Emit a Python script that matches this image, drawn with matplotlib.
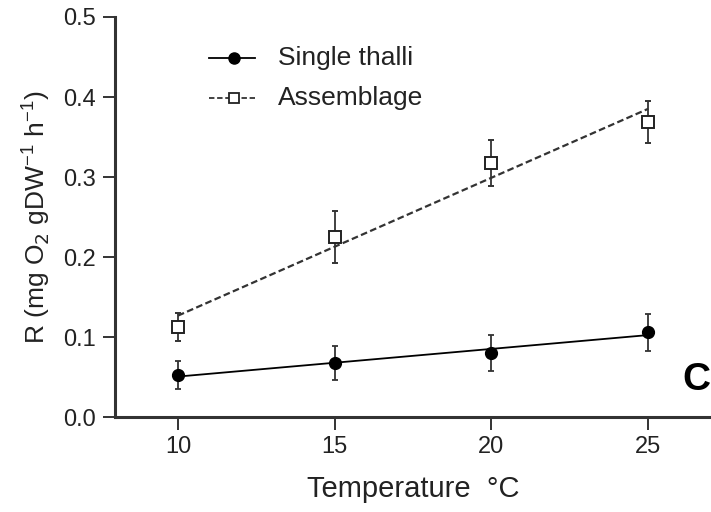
import numpy as np
import matplotlib
matplotlib.use("Agg")
import matplotlib.pyplot as plt

plt.rcParams['font.family'] = ['Liberation Sans', 'DejaVu Sans']

temps = [10, 15, 20, 25]
single_mean = [0.0525, 0.0675, 0.080, 0.106]
single_err = [0.018, 0.021, 0.022, 0.023]
assem_mean = [0.1125, 0.225, 0.3175, 0.369]
assem_err = [0.0175, 0.032, 0.029, 0.026]

dark = '#222222'

fig = plt.figure(figsize=(7.11, 5.12), dpi=100)
ax = fig.add_axes([0.162, 0.1855, 0.838, 0.7813])

x = np.array(temps, dtype=float)
xfit = np.array([10, 25], dtype=float)

# regression lines through the means
p1 = np.polyfit(x, single_mean, 1)
p2 = np.polyfit(x, assem_mean, 1)
ax.plot(xfit, np.polyval(p1, xfit), color='black', lw=1.3, zorder=2)
ax.plot(xfit, np.polyval(p2, xfit), color='#333333', lw=1.6, ls=(0, (3, 1.5)), zorder=2)

ax.errorbar(x, single_mean, yerr=single_err, fmt='o', color='black', ms=8.5,
            elinewidth=1.3, capsize=2.5, capthick=1.3, ecolor='#333333', zorder=3)
ax.errorbar(x, assem_mean, yerr=assem_err, fmt='s', mfc='white', mec='#222222', mew=1.4,
            ms=8.5, elinewidth=1.3, capsize=2.5, capthick=1.3, ecolor='#333333', zorder=3)

# legend drawn manually to mimic the original layout
ax.plot([11.0, 12.45], [0.449, 0.449], color='black', lw=1.3)
ax.plot([11.8], [0.449], 'o', color='black', ms=8)
ax.plot([11.0, 12.45], [0.399, 0.399], color='#333333', lw=1.3, ls=(0, (3, 1.5)))
ax.plot([11.8], [0.399], 's', mfc='white', mec='#222222', mew=1.3, ms=7.5)
ax.text(13.2, 0.449, 'Single thalli', fontsize=19, color=dark, va='center')
ax.text(13.2, 0.399, 'Assemblage', fontsize=19, color=dark, va='center')

ax.text(26.08, 0.046, 'C', fontsize=28, fontweight='bold', color='black', va='center', ha='left')

ax.set_xlim(8, 27.0)
ax.set_ylim(0, 0.5)
ax.set_xticks(temps)
ax.set_yticks([0.0, 0.1, 0.2, 0.3, 0.4, 0.5])
ax.set_yticklabels(['0.0', '0.1', '0.2', '0.3', '0.4', '0.5'])

for s in ['top', 'right']:
    ax.spines[s].set_visible(False)
for s in ['left', 'bottom']:
    ax.spines[s].set_linewidth(2.2)
    ax.spines[s].set_color('#333333')

ax.tick_params(axis='both', direction='out', length=9, width=1.4, color='#333333',
               labelsize=17, labelcolor=dark, pad=5)

ax.set_xlabel('Temperature  \u00b0C', fontsize=21, color=dark, labelpad=12)
ax.set_ylabel(r'R (mg O$_2$ gDW$^{\mathregular{-1}}$ h$^{\mathregular{-1}}$)', fontsize=19,
              color=dark, labelpad=8)

fig.savefig('out.png', dpi=100)
